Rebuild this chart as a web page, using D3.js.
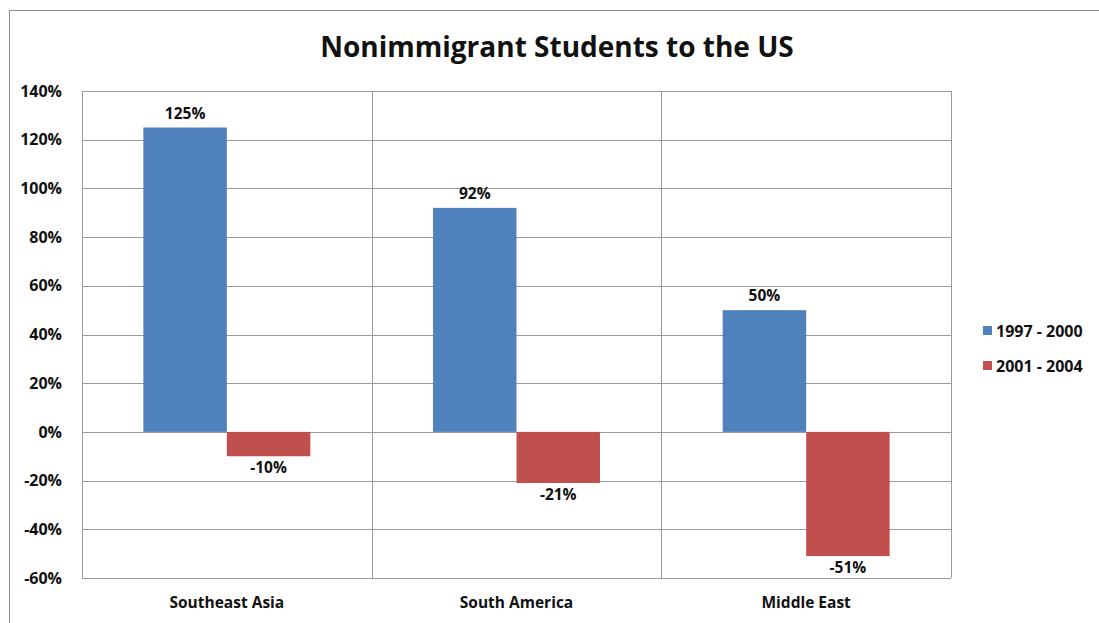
<!DOCTYPE html>
<html>
<head>
<meta charset="utf-8">
<script src="https://cdn.jsdelivr.net/npm/d3@7"></script>
<style>
  body { margin: 0; background: #fff; }
  text { font-family: "Open Sans", "Noto Sans", sans-serif; font-weight: bold; fill: #111; }
</style>
</head>
<body>
<script>
let regions = ['Southeast Asia', 'South America', 'Middle East'];
let series = ['1997 - 2000', '2001 - 2004'];
let early = [125, 92, 50];
let late = [-10, -21, -51];
let yTicks = [-60, -40, -20, 0, 20, 40, 60, 80, 100, 120, 140];
let colors = ['#4f81bd', '#c0504d'];

var W = 1099, H = 623;
var margin = {top: 91, left: 82, right: 1099 - 951, bottom: 623 - 578};
var width = W - margin.left - margin.right;
var height = H - margin.top - margin.bottom;

var root = d3.select('body').append('svg')
    .attr('width', W)
    .attr('height', H);

// outer chart frame
root.append('rect')
    .attr('x', 9.5).attr('y', 10.5)
    .attr('width', W + 10).attr('height', H + 10)
    .style('fill', 'none')
    .style('stroke', '#8c8c8c');

root.append('text')
    .attr('x', 557).attr('y', 57)
    .attr('text-anchor', 'middle')
    .style('font-size', '28px')
    .text('Nonimmigrant Students to the US');

var svg = root.append('g')
    .attr('transform', 'translate(' + margin.left + ',' + margin.top + ')');

var xScale = d3.scaleBand()
    .domain(regions)
    .range([0, width]);

var inner = d3.scaleBand()
    .domain(series)
    .range([0, xScale.bandwidth()])
    .paddingOuter(0.735);

var yScale = d3.scaleLinear()
    .domain([-60, 140])
    .range([height, 0]);

// horizontal grid
svg.selectAll('.hgrid')
    .data(yTicks)
    .enter().append('line')
    .attr('class', 'hgrid')
    .attr('x1', 0).attr('x2', width)
    .attr('y1', d => Math.round(yScale(d)) + 0.5)
    .attr('y2', d => Math.round(yScale(d)) + 0.5)
    .style('stroke', '#9a9a9a');

// vertical grid / frame
var vlines = [0].concat(regions.map(r => xScale(r) + xScale.bandwidth()));
svg.selectAll('.vgrid')
    .data(vlines)
    .enter().append('line')
    .attr('class', 'vgrid')
    .attr('x1', d => Math.round(d) + 0.5).attr('x2', d => Math.round(d) + 0.5)
    .attr('y1', 0).attr('y2', height)
    .style('stroke', '#9a9a9a');

var yAxis = d3.axisLeft(yScale)
    .tickValues(yTicks)
    .tickSize(0)
    .tickPadding(20)
    .tickFormat(d => d + '%');

svg.append('g')
    .attr('class', 'y axis')
    .call(yAxis)
    .call(g => g.select('.domain').remove())
    .selectAll('text')
    .style('font-size', '16px');

var xAxis = d3.axisBottom(xScale)
    .tickSize(0)
    .tickPadding(19);

svg.append('g')
    .attr('transform', 'translate(0,' + height + ')')
    .call(xAxis)
    .call(g => g.select('.domain').remove())
    .selectAll('text')
    .style('font-size', '15.5px');

var rows = [];
regions.forEach((r, i) => {
    rows.push({region: r, s: 0, v: early[i]});
    rows.push({region: r, s: 1, v: late[i]});
});

svg.selectAll('.bar')
    .data(rows)
    .enter().append('rect')
    .attr('class', 'bar')
    .attr('x', d => xScale(d.region) + inner(series[d.s]))
    .attr('width', inner.bandwidth())
    .attr('y', d => yScale(Math.max(0, d.v)))
    .attr('height', d => Math.abs(yScale(d.v) - yScale(0)))
    .style('fill', d => colors[d.s]);

svg.selectAll('.lbl')
    .data(rows)
    .enter().append('text')
    .attr('class', 'lbl')
    .attr('x', d => xScale(d.region) + inner(series[d.s]) + inner.bandwidth() / 2)
    .attr('y', d => d.v >= 0 ? yScale(d.v) - 9 : yScale(d.v) + 17)
    .attr('text-anchor', 'middle')
    .style('font-size', '15.5px')
    .text(d => d.v + '%');

var legend = root.append('g')
    .attr('transform', 'translate(983,331)');

var li = legend.selectAll('.leg')
    .data(series)
    .enter().append('g')
    .attr('transform', (d, i) => 'translate(0,' + i * 35 + ')');

li.append('rect')
    .attr('x', 0).attr('y', -5)
    .attr('width', 9).attr('height', 9)
    .style('fill', (d, i) => colors[i]);

li.append('text')
    .attr('x', 13).attr('y', 6)
    .style('font-size', '16px')
    .text(d => d);
</script>
</body>
</html>
